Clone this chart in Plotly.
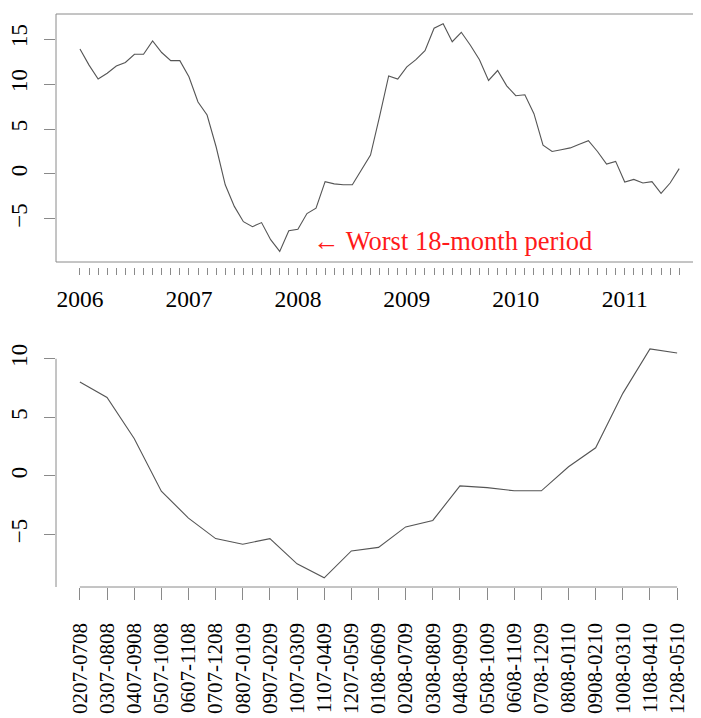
import plotly.graph_objects as go

# ---------------- data ----------------
start_year = 2006
monthly_values = [
    13.9, 12.1, 10.55, 11.2, 12.0, 12.4, 13.3, 13.3, 14.8, 13.5, 12.6, 12.6,
    10.8, 8.0, 6.55, 3.0, -1.2, -3.6, -5.3, -5.85, -5.4, -7.3, -8.6, -6.3,
    -6.15, -4.4, -3.8, -0.85, -1.1, -1.2, -1.2, 0.5, 2.1, 6.4, 10.9, 10.55,
    11.9, 12.7, 13.7, 16.2, 16.7, 14.7, 15.75, 14.3, 12.7, 10.4, 11.5, 9.8,
    8.7, 8.8, 6.7, 3.2, 2.5, 2.7, 2.9, 3.3, 3.7, 2.5, 1.1, 1.4,
    -0.9, -0.6, -1.0, -0.85, -2.15, -1.0, 0.6,
]
year_labels = ["2006", "2007", "2008", "2009", "2010", "2011"]

period_labels = [
    "0207-0708", "0307-0808", "0407-0908", "0507-1008", "0607-1108",
    "0707-1208", "0807-0109", "0907-0209", "1007-0309", "1107-0409",
    "1207-0509", "0108-0609", "0208-0709", "0308-0809", "0408-0909",
    "0508-1009", "0608-1109", "0708-1209", "0808-0110", "0908-0210",
    "1008-0310", "1108-0410", "1208-0510",
]
period_values = [
    8.02, 6.7, 3.2, -1.3, -3.6, -5.35, -5.83, -5.35, -7.5, -8.7, -6.4, -6.1,
    -4.35, -3.8, -0.85, -1.0, -1.27, -1.27, 0.78, 2.4, 7.05, 10.84, 10.5,
]
annotation_text = "\u2190 Worst 18-month period"

# ---------------- layout helpers ----------------
PAGE_W, PAGE_H = 701, 718
BODY_OFF = 8  # default HTML body margin offsets the figure in the page
W, H = PAGE_W - BODY_OFF, PAGE_H - BODY_OFF
FONT = "Liberation Serif"
LINE_COL = "#555555"
AXIS_COL = "#8a8a8a"

t = [start_year + i / 12 for i in range(len(monthly_values))]
n_tick_months = len(monthly_values)
tick_vals_top = [start_year + i / 12 for i in range(n_tick_months)]
tick_text_top = [year_labels[i // 12] if i % 12 == 0 and i // 12 < len(year_labels) else ""
                 for i in range(n_tick_months)]

# page-pixel layout targets
page_left, page_top, page_bottom = 56, 14, 587
m_l = page_left - BODY_OFF
m_t = page_top - BODY_OFF
m_b = PAGE_H - page_bottom
m_r = 0
plot_h = H - m_t - m_b


def px_to_paper(y_page):
    return (page_bottom - y_page) / plot_h


top_dom = [px_to_paper(262), 1.0]
bot_dom = [0.0, px_to_paper(339.8)]

x_top_range = [start_year - 0.22, start_year + 5.70]
y_top_range = [-9.78, 17.78]
x_bot_range = [-0.88, len(period_labels) - 1 + 0.88]
y_bot_range = [-9.48, 11.62]

fig = go.Figure()
fig.add_trace(go.Scatter(x=t, y=monthly_values, mode="lines",
                         line=dict(color=LINE_COL, width=1.1),
                         xaxis="x", yaxis="y", showlegend=False, hoverinfo="skip"))
fig.add_trace(go.Scatter(x=list(range(len(period_labels))), y=period_values, mode="lines",
                         line=dict(color=LINE_COL, width=1.1),
                         xaxis="x2", yaxis="y2", showlegend=False, hoverinfo="skip"))


def tf(size):
    return dict(family=FONT, size=size, color="black")


fig.update_layout(
    width=W, height=H,
    margin=dict(l=m_l, r=m_r, t=m_t, b=m_b, autoexpand=False),
    paper_bgcolor="white", plot_bgcolor="white",
    font=dict(family=FONT, size=22, color="black"),
    xaxis=dict(domain=[0, 1], range=x_top_range, anchor="free",
               position=px_to_paper(267), showgrid=False, zeroline=False,
               showline=False, ticks="outside", ticklen=7, tickwidth=1,
               tickcolor=AXIS_COL, tickmode="array", tickvals=tick_vals_top,
               ticktext=tick_text_top, tickangle=0, tickfont=tf(23.5),
               ticklabelstandoff=4, automargin=False),
    yaxis=dict(domain=top_dom, range=y_top_range, anchor="x", showgrid=False,
               zeroline=False, showline=False, ticks="outside", ticklen=11,
               tickcolor=AXIS_COL, tickmode="array", tickvals=[-5, 0, 5, 10, 15],
               tickangle=-90, tickfont=tf(23), ticklabelstandoff=8,
               automargin=False),
    xaxis2=dict(domain=[0, 1], range=x_bot_range, anchor="y2", showgrid=False,
                zeroline=False, showline=False, ticks="outside", ticklen=11.5,
                tickcolor=AXIS_COL, tickmode="array",
                tickvals=list(range(len(period_labels))), ticktext=period_labels,
                tickangle=-90, tickfont=tf(21), ticklabelstandoff=15,
                automargin=False),
    yaxis2=dict(domain=bot_dom, range=y_bot_range, anchor="x2", showgrid=False,
                zeroline=False, showline=False, ticks="outside", ticklen=11,
                tickcolor=AXIS_COL, tickmode="array", tickvals=[-5, 0, 5, 10],
                tickangle=-90, tickfont=tf(23), ticklabelstandoff=8,
                automargin=False),
)

# box around top panel (right edge falls just outside the canvas, as in the reference)
fig.add_shape(type="rect", xref="x domain", yref="y domain", x0=0, x1=1.02, y0=0, y1=1,
              line=dict(color=AXIS_COL, width=1), fillcolor="rgba(0,0,0,0)")


def frac(v, rng):
    return (v - rng[0]) / (rng[1] - rng[0])


# R-style axes of bottom panel
fig.add_shape(type="line", xref="x2 domain", yref="y2 domain",
              x0=frac(0, x_bot_range), x1=frac(len(period_labels) - 1, x_bot_range), y0=0, y1=0,
              line=dict(color=AXIS_COL, width=1))
fig.add_shape(type="line", xref="x2 domain", yref="y2 domain",
              x0=0, x1=0, y0=0, y1=frac(10, y_bot_range),
              line=dict(color=AXIS_COL, width=1))

fig.add_annotation(x=2008.12, y=-7.5, xref="x", yref="y", text=annotation_text,
                   showarrow=False, xanchor="left", yanchor="middle",
                   font=dict(family=FONT, size=26.5, color="#ff1a1a"))

fig.write_html("out.html")
